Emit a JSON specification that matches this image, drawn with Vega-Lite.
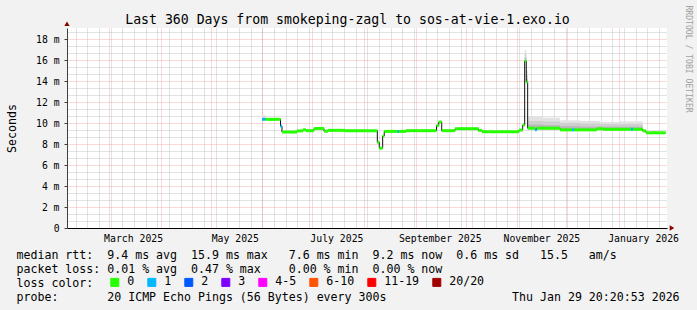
{
  "$schema": "https://vega.github.io/schema/vega-lite/v6.json",
  "width": 600,
  "height": 200,
  "autosize": {"type": "none"},
  "padding": {"left": 67, "top": 28, "right": 30, "bottom": 82},
  "background": "#f2f2f2",
  "config": {
    "view": {"fill": "#ffffff", "stroke": null},
    "font": "DejaVu Sans Mono"
  },
  "title": {
    "text": "Last 360 Days from smokeping-zagl to sos-at-vie-1.exo.io",
    "font": "DejaVu Sans Mono",
    "fontSize": 13.2,
    "fontWeight": "normal",
    "color": "#000000",
    "anchor": "middle",
    "dx": -19.5,
    "dy": 37,
    "offset": 4.7,
    "baseline": "alphabetic"
  },
  "datasets": {
    "median": [
      {"start": "2025-06-01T00:00", "end": "2025-06-02T23:00", "median": 10.35, "loss": "1"},
      {"start": "2025-06-02T23:00", "end": "2025-06-11T23:00", "median": 10.35, "loss": "0"},
      {"start": "2025-06-11T23:00", "end": "2025-06-12T20:00", "median": 9.7, "loss": "1"},
      {"start": "2025-06-12T20:00", "end": "2025-06-21T20:00", "median": 9.14, "loss": "0"},
      {"start": "2025-06-21T20:00", "end": "2025-06-25T11:00", "median": 9.25, "loss": "0"},
      {"start": "2025-06-25T11:00", "end": "2025-06-27T06:00", "median": 9.35, "loss": "0"},
      {"start": "2025-06-27T06:00", "end": "2025-07-02T01:00", "median": 9.27, "loss": "0"},
      {"start": "2025-07-02T01:00", "end": "2025-07-08T01:00", "median": 9.48, "loss": "0"},
      {"start": "2025-07-08T01:00", "end": "2025-07-10T11:00", "median": 9.22, "loss": "0"},
      {"start": "2025-07-10T11:00", "end": "2025-07-20T16:00", "median": 9.3, "loss": "0"},
      {"start": "2025-07-20T16:00", "end": "2025-08-09T01:00", "median": 9.27, "loss": "0"},
      {"start": "2025-08-09T01:00", "end": "2025-08-10T05:00", "median": 8.16, "loss": "0"},
      {"start": "2025-08-10T05:00", "end": "2025-08-12T06:00", "median": 7.6, "loss": "0"},
      {"start": "2025-08-12T06:00", "end": "2025-08-13T05:00", "median": 8.76, "loss": "0"},
      {"start": "2025-08-13T05:00", "end": "2025-08-21T04:00", "median": 9.2, "loss": "0"},
      {"start": "2025-08-21T04:00", "end": "2025-08-22T01:00", "median": 9.2, "loss": "1"},
      {"start": "2025-08-22T01:00", "end": "2025-08-26T06:00", "median": 9.2, "loss": "0"},
      {"start": "2025-08-26T06:00", "end": "2025-09-13T13:00", "median": 9.27, "loss": "0"},
      {"start": "2025-09-13T13:00", "end": "2025-09-14T22:00", "median": 9.75, "loss": "0"},
      {"start": "2025-09-14T22:00", "end": "2025-09-16T16:00", "median": 10.1, "loss": "0"},
      {"start": "2025-09-16T16:00", "end": "2025-09-24T16:00", "median": 9.27, "loss": "0"},
      {"start": "2025-09-24T16:00", "end": "2025-10-08T15:00", "median": 9.46, "loss": "0"},
      {"start": "2025-10-08T15:00", "end": "2025-10-10T20:00", "median": 9.3, "loss": "0"},
      {"start": "2025-10-10T20:00", "end": "2025-11-02T01:00", "median": 9.17, "loss": "0"},
      {"start": "2025-11-02T01:00", "end": "2025-11-04T06:00", "median": 9.33, "loss": "0"},
      {"start": "2025-11-04T06:00", "end": "2025-11-05T11:00", "median": 9.8, "loss": "0"},
      {"start": "2025-11-05T11:00", "end": "2025-11-06T10:00", "median": 15.9, "loss": "0"},
      {"start": "2025-11-06T10:00", "end": "2025-11-07T06:00", "median": 13.9, "loss": "0"},
      {"start": "2025-11-07T06:00", "end": "2025-11-11T16:00", "median": 9.5, "loss": "0"},
      {"start": "2025-11-11T16:00", "end": "2025-11-12T16:00", "median": 9.35, "loss": "1"},
      {"start": "2025-11-12T16:00", "end": "2025-11-26T16:00", "median": 9.5, "loss": "0"},
      {"start": "2025-11-26T16:00", "end": "2025-12-03T20:00", "median": 9.35, "loss": "0"},
      {"start": "2025-12-03T20:00", "end": "2025-12-05T01:00", "median": 9.35, "loss": "1"},
      {"start": "2025-12-05T01:00", "end": "2025-12-18T20:00", "median": 9.35, "loss": "0"},
      {"start": "2025-12-18T20:00", "end": "2025-12-22T11:00", "median": 9.45, "loss": "0"},
      {"start": "2025-12-22T11:00", "end": "2026-01-08T06:00", "median": 9.4, "loss": "0"},
      {"start": "2026-01-08T06:00", "end": "2026-01-09T11:00", "median": 9.4, "loss": "1"},
      {"start": "2026-01-09T11:00", "end": "2026-01-15T06:00", "median": 9.4, "loss": "0"},
      {"start": "2026-01-15T06:00", "end": "2026-01-17T06:00", "median": 9.25, "loss": "0"},
      {"start": "2026-01-17T06:00", "end": "2026-01-29T00:00", "median": 9.07, "loss": "0"},
      {"start": "2026-01-29T00:00", "end": "2026-01-29T00:00", "median": 9.07, "loss": "0"}
    ],
    "smoke": [
      {"start": "2025-06-01T00:00", "end": "2025-06-02T23:00", "lo": 10.35, "s1": 10.75, "s2": 10.55, "s3": 10.45},
      {"start": "2025-11-05T11:00", "end": "2025-11-06T10:00", "lo": 15.9, "s1": 16.95, "s2": 16.6, "s3": 16.2},
      {"start": "2025-11-06T10:00", "end": "2025-11-07T06:00", "lo": 13.9, "s1": 15.0, "s2": 14.6, "s3": 14.2},
      {"start": "2025-11-07T06:00", "end": "2025-11-16T11:00", "lo": 9.5, "s1": 10.6, "s2": 10.2, "s3": 9.85},
      {"start": "2025-11-16T11:00", "end": "2025-11-26T16:00", "lo": 9.5, "s1": 10.5, "s2": 10.15, "s3": 9.8},
      {"start": "2025-11-26T16:00", "end": "2025-12-08T16:00", "lo": 9.35, "s1": 10.25, "s2": 10.0, "s3": 9.7},
      {"start": "2025-12-08T16:00", "end": "2025-12-20T16:00", "lo": 9.35, "s1": 10.2, "s2": 9.95, "s3": 9.65},
      {"start": "2025-12-20T16:00", "end": "2026-01-01T16:00", "lo": 9.4, "s1": 10.1, "s2": 9.9, "s3": 9.65},
      {"start": "2026-01-01T16:00", "end": "2026-01-15T06:00", "lo": 9.4, "s1": 10.15, "s2": 9.9, "s3": 9.65}
    ],
    "arrowY": [{"t": "2025-02-03T20:20:53", "v": 19.45}],
    "arrowX": [{"t": "2026-02-01T20:00", "v": 0}]
  },
  "layer": [
    {
      "data": {"name": "smoke"},
      "mark": {"type": "rect", "color": "#e2e2e2"},
      "encoding": {
        "x": {
          "field": "start", "type": "temporal",
          "scale": {"domain": [{"year": 2025, "month": "feb", "date": 3, "hours": 20, "minutes": 20, "seconds": 53}, {"year": 2026, "month": "jan", "date": 29, "hours": 20, "minutes": 20, "seconds": 53}], "nice": false},
          "axis": {"orient": "bottom", "tickCount": {"interval": "week", "step": 1}, "labels": false, "ticks": false, "domain": false, "title": null, "grid": true, "gridColor": "#b8b8b8", "gridDash": [1, 1], "gridOpacity": 0.8}
        },
        "x2": {"field": "end"},
        "y": {
          "field": "lo", "type": "quantitative",
          "scale": {"domain": [0, 19.05], "nice": false, "zero": true},
          "axis": {"orient": "left", "values": [0.6667, 1.3333, 2.6667, 3.3333, 4.6667, 5.3333, 6.6667, 7.3333, 8.6667, 9.3333, 10.6667, 11.3333, 12.6667, 13.3333, 14.6667, 15.3333, 16.6667, 17.3333, 18.6667], "labels": false, "ticks": false, "domain": false, "title": null, "grid": true, "gridColor": "#b8b8b8", "gridDash": [1, 1], "gridOpacity": 0.8}
        },
        "y2": {"field": "s1"}
      }
    },
    {
      "data": {"name": "smoke"},
      "mark": {"type": "rect", "color": "#cfcfcf"},
      "encoding": {
        "x": {
          "field": "start", "type": "temporal",
          "scale": {"domain": [{"year": 2025, "month": "feb", "date": 3, "hours": 20, "minutes": 20, "seconds": 53}, {"year": 2026, "month": "jan", "date": 29, "hours": 20, "minutes": 20, "seconds": 53}], "nice": false},
          "axis": {"orient": "bottom", "tickCount": {"interval": "month", "step": 1}, "labels": false, "ticks": false, "domain": false, "title": null, "grid": true, "gridColor": "#f08080", "gridDash": [1, 1], "gridOpacity": 0.6}
        },
        "x2": {"field": "end"},
        "y": {
          "field": "lo", "type": "quantitative",
          "scale": {"domain": [0, 19.05], "nice": false, "zero": true},
          "axis": {"orient": "right", "labels": false, "ticks": false, "domain": false, "grid": false, "title": "RRDTOOL / TOBI OETIKER", "titleAngle": 90, "titleX": 18, "titleY": -23, "titleAlign": "left", "titleBaseline": "alphabetic", "titleFont": "DejaVu Sans Mono", "titleFontSize": 8.1, "titleFontWeight": "normal", "titleColor": "#a0a0a0"}
        },
        "y2": {"field": "s2"}
      }
    },
    {
      "data": {"name": "smoke"},
      "mark": {"type": "rect", "color": "#b8b8b8"},
      "encoding": {
        "x": {"field": "start", "type": "temporal", "scale": {"domain": [{"year": 2025, "month": "feb", "date": 3, "hours": 20, "minutes": 20, "seconds": 53}, {"year": 2026, "month": "jan", "date": 29, "hours": 20, "minutes": 20, "seconds": 53}], "nice": false}, "axis": null},
        "x2": {"field": "end"},
        "y": {"field": "lo", "type": "quantitative", "scale": {"domain": [0, 19.05], "nice": false, "zero": true}, "axis": null},
        "y2": {"field": "s3"}
      }
    },
    {
      "data": {"name": "median"},
      "mark": {"type": "line", "interpolate": "step-after", "color": "#101010", "strokeWidth": 1},
      "encoding": {
        "x": {
          "field": "start", "type": "temporal",
          "scale": {"domain": [{"year": 2025, "month": "feb", "date": 3, "hours": 20, "minutes": 20, "seconds": 53}, {"year": 2026, "month": "jan", "date": 29, "hours": 20, "minutes": 20, "seconds": 53}], "nice": false},
          "axis": {
            "orient": "bottom",
            "values": [
              {"year": 2025, "month": "mar", "date": 15, "hours": 12},
              {"year": 2025, "month": "may", "date": 15, "hours": 12},
              {"year": 2025, "month": "jul", "date": 15, "hours": 12},
              {"year": 2025, "month": "sep", "date": 15, "hours": 12},
              {"year": 2025, "month": "nov", "date": 15, "hours": 12},
              {"year": 2026, "month": "jan", "date": 15, "hours": 12}
            ],
            "format": "%B %Y",
            "formatType": "time",
            "labelFont": "DejaVu Sans Mono",
            "labelFontSize": 9.8,
            "labelColor": "#000000",
            "labelPadding": 5,
            "labelBaseline": "top",
            "labelFlush": false,
            "labelOverlap": false,
            "ticks": false,
            "grid": false,
            "domain": true,
            "domainColor": "#000000",
            "domainWidth": 1,
            "title": [
              "median rtt:\u00a0\u00a09.4 ms avg\u00a0\u00a015.9 ms max\u00a0\u00a0\u00a07.6 ms min\u00a0\u00a09.2 ms now\u00a0\u00a00.6 ms sd\u00a0\u00a0\u00a015.5\u00a0\u00a0\u00a0am/s",
              "packet loss: 0.01 % avg\u00a0\u00a00.47 % max\u00a0\u00a0\u00a0\u00a00.00 % min\u00a0\u00a00.00 % now",
              "loss color:",
              "probe:\u00a0\u00a0\u00a0\u00a0\u00a0\u00a0\u00a020 ICMP Echo Pings (56 Bytes) every 300s\u00a0\u00a0\u00a0\u00a0\u00a0\u00a0\u00a0\u00a0\u00a0\u00a0\u00a0\u00a0\u00a0\u00a0\u00a0\u00a0\u00a0\u00a0Thu Jan 29 20:20:53 2026"
            ],
            "titleX": -51,
            "titleY": 30.3,
            "titleAlign": "left",
            "titleAngle": 0,
            "titleBaseline": "alphabetic",
            "titleLineHeight": 13.93,
            "titleFont": "DejaVu Sans Mono",
            "titleFontSize": 11.6,
            "titleFontWeight": "normal",
            "titleColor": "#000000"
          }
        },
        "y": {
          "field": "median", "type": "quantitative",
          "scale": {"domain": [0, 19.05], "nice": false, "zero": true},
          "axis": {
            "orient": "left",
            "values": [0, 2, 4, 6, 8, 10, 12, 14, 16, 18],
            "labelExpr": "datum.value == 0 ? '0' : datum.value + ' m'",
            "labelFont": "DejaVu Sans Mono",
            "labelFontSize": 9.75,
            "labelColor": "#000000",
            "labelPadding": 5,
            "ticks": true,
            "tickSize": 3,
            "tickColor": "#404040",
            "domain": true,
            "domainColor": "#404040",
            "grid": true,
            "gridColor": "#f08080",
            "gridDash": [1, 1],
            "gridOpacity": 0.6,
            "title": "Seconds",
            "titleFont": "DejaVu Sans Mono",
            "titleFontSize": 11.6,
            "titleFontWeight": "normal",
            "titleColor": "#000000",
            "titleAngle": 270,
            "titleX": -52,
            "titleY": 100,
            "titleAlign": "center",
            "titleBaseline": "alphabetic"
          }
        }
      }
    },
    {
      "data": {"name": "median"},
      "mark": {"type": "rule", "strokeWidth": 3, "strokeCap": "butt"},
      "encoding": {
        "x": {"field": "start", "type": "temporal", "scale": {"domain": [{"year": 2025, "month": "feb", "date": 3, "hours": 20, "minutes": 20, "seconds": 53}, {"year": 2026, "month": "jan", "date": 29, "hours": 20, "minutes": 20, "seconds": 53}], "nice": false}, "axis": null},
        "x2": {"field": "end"},
        "y": {"field": "median", "type": "quantitative", "scale": {"domain": [0, 19.05], "nice": false, "zero": true}, "axis": null},
        "color": {
          "field": "loss", "type": "nominal",
          "scale": {
            "domain": ["0", "1", "2", "3", "4-5", "6-10", "11-19", "20/20"],
            "range": ["#26ff00", "#00b8ff", "#0059ff", "#7e00ff", "#ff00ff", "#ff5500", "#ff0000", "#a00000"]
          },
          "legend": {
            "title": null,
            "orient": "none",
            "legendX": 42,
            "legendY": 248.5,
            "direction": "horizontal",
            "labelFont": "DejaVu Sans Mono",
            "labelFontSize": 11.6,
            "labelColor": "#000000",
            "labelOffset": 6.6,
            "columnPadding": 10,
            "padding": 0,
            "symbolType": "square",
            "symbolSize": 64,
            "symbolStrokeColor": "#000000",
            "symbolStrokeWidth": 1,
            "symbolOpacity": 1,
            "encode": {
              "symbols": {
                "update": {
                  "fill": {"scale": "color", "field": "value"},
                  "stroke": {"value": "#000000"},
                  "strokeWidth": {"value": 1},
                  "shape": {"value": "square"},
                  "size": {"value": 64},
                  "opacity": {"value": 1}
                }
              }
            }
          }
        }
      }
    },
    {
      "data": {"name": "arrowY"},
      "mark": {"type": "point", "shape": "triangle-up", "filled": true, "size": 28, "color": "#8b0000", "opacity": 1, "clip": false},
      "encoding": {
        "x": {"field": "t", "type": "temporal", "scale": {"domain": [{"year": 2025, "month": "feb", "date": 3, "hours": 20, "minutes": 20, "seconds": 53}, {"year": 2026, "month": "jan", "date": 29, "hours": 20, "minutes": 20, "seconds": 53}], "nice": false}, "axis": null},
        "y": {"field": "v", "type": "quantitative", "scale": {"domain": [0, 19.05], "nice": false, "zero": true}, "axis": null}
      }
    },
    {
      "data": {"name": "arrowX"},
      "mark": {"type": "point", "shape": "triangle-right", "filled": true, "size": 28, "color": "#8b0000", "opacity": 1, "clip": false},
      "encoding": {
        "x": {"field": "t", "type": "temporal", "scale": {"domain": [{"year": 2025, "month": "feb", "date": 3, "hours": 20, "minutes": 20, "seconds": 53}, {"year": 2026, "month": "jan", "date": 29, "hours": 20, "minutes": 20, "seconds": 53}], "nice": false}, "axis": null},
        "y": {"field": "v", "type": "quantitative", "scale": {"domain": [0, 19.05], "nice": false, "zero": true}, "axis": null}
      }
    }
  ],
  "resolve": {"axis": {"x": "independent", "y": "independent"}}
}
